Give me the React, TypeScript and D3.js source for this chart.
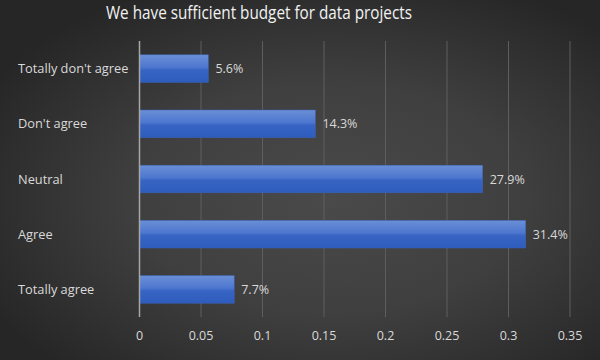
import React from "react";
import * as d3 from "d3";

const categories = ["Totally don't agree", "Don't agree", "Neutral", "Agree", "Totally agree"];
const values = [0.056, 0.143, 0.279, 0.314, 0.077];
const ticks = [0, 0.05, 0.1, 0.15, 0.2, 0.25, 0.3, 0.35];
const title = "We have sufficient budget for data projects";

export default function App() {
  const W = 600, H = 360;
  const x = d3.scaleLinear().domain([0, 0.35]).range([139.5, 570]);
  const y = d3.scaleBand().domain(categories).range([41, 317]).paddingInner(0.5).paddingOuter(0.25);
  const font = "'Segoe UI', 'Open Sans', 'Noto Sans', sans-serif";
  return (
    <svg width={W} height={H} style={{ position: "absolute", left: 0, top: 0 }}>
      <defs>
        <radialGradient id="bg" cx="0.55" cy="0.55" r="0.65">
          <stop offset="0" stopColor="#4a4a4a" />
          <stop offset="0.5" stopColor="#3f3f3f" />
          <stop offset="1" stopColor="#262626" />
        </radialGradient>
        <linearGradient id="bar" x1="0" y1="0" x2="0" y2="1">
          <stop offset="0" stopColor="#6b8fd6" />
          <stop offset="0.45" stopColor="#4d77cf" />
          <stop offset="0.55" stopColor="#3865c4" />
          <stop offset="1" stopColor="#2e5cbd" />
        </linearGradient>
      </defs>
      <rect width={W} height={H} fill="url(#bg)" />
      <text x={259} y={18.5} textAnchor="middle" fill="#f2f2f2" fontSize={17.5} fontFamily={font}
        textLength={306} lengthAdjust="spacingAndGlyphs">
        {title}
      </text>
      {ticks.map((t) => (
        <g key={t}>
          {t > 0 && (
            <line x1={x(t)} x2={x(t)} y1={41} y2={317} stroke="#5e5e5e" strokeWidth={1} />
          )}
          <text x={x(t)} y={340} textAnchor="middle" fill="#d9d9d9" fontSize={12.5} fontFamily={font}>
            {String(t)}
          </text>
        </g>
      ))}
      {categories.map((c, i) => {
        const y0 = y(c)!;
        const bw = y.bandwidth();
        return (
          <g key={c}>
            <rect x={x(0)} y={y0} width={x(values[i]) - x(0)} height={bw} fill="url(#bar)" stroke="#3a64bd" strokeWidth={0.5} />
            <text x={x(values[i]) + 7} y={y0 + bw / 2 + 4.5} fill="#d9d9d9" fontSize={12.5} fontFamily={font}>
              {(values[i] * 100).toFixed(1) + "%"}
            </text>
            <text x={18} y={y0 + bw / 2 + 4.5} fill="#d9d9d9" fontSize={12.8} fontFamily={font}>
              {c}
            </text>
          </g>
        );
      })}
      <line x1={x(0)} x2={x(0)} y1={41} y2={317} stroke="#a6a6a6" strokeWidth={1.5} />
    </svg>
  );
}
